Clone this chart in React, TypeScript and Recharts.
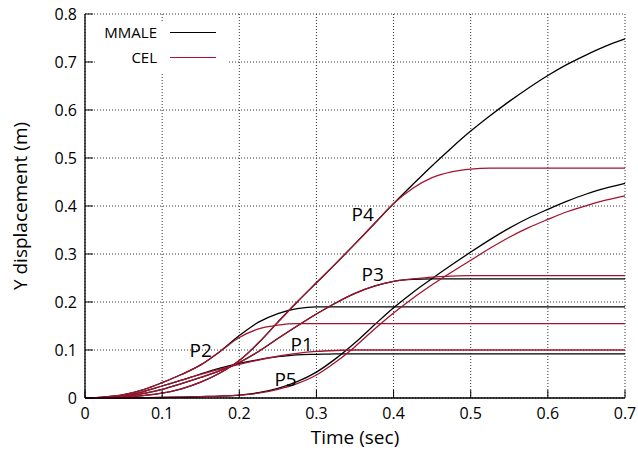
import { CartesianGrid, Line, LineChart, ReferenceDot, XAxis, YAxis } from 'recharts';

const FONT = '"Open Sans", "DejaVu Sans", sans-serif';
const CEL_RED = '#A2142F';

const times = [
  0, 0.025, 0.05, 0.075, 0.1, 0.125, 0.15, 0.175, 0.2, 0.225, 0.25, 0.275, 0.3, 0.325, 0.35,
  0.375, 0.4, 0.425, 0.45, 0.475, 0.5, 0.525, 0.55, 0.575, 0.6, 0.625, 0.65, 0.675, 0.7,
];

const p1Mmale = [
  0, 0.001, 0.005, 0.013, 0.025, 0.037, 0.05, 0.062, 0.072, 0.08, 0.086, 0.09, 0.091, 0.092, 0.092,
  0.092, 0.092, 0.092, 0.092, 0.092, 0.092, 0.092, 0.092, 0.092, 0.092, 0.092, 0.092, 0.092, 0.092,
];
const p1Cel = [
  0, 0.001, 0.005, 0.013, 0.025, 0.037, 0.049, 0.06, 0.07, 0.079, 0.087, 0.093, 0.097, 0.099, 0.1,
  0.1, 0.1, 0.1, 0.1, 0.1, 0.1, 0.1, 0.1, 0.1, 0.1, 0.1, 0.1, 0.1, 0.1,
];
const p2Mmale = [
  0, 0.002, 0.007, 0.017, 0.032, 0.049, 0.069, 0.097, 0.13, 0.158, 0.176, 0.186, 0.19, 0.19, 0.19,
  0.19, 0.19, 0.19, 0.19, 0.19, 0.19, 0.19, 0.19, 0.19, 0.19, 0.19, 0.19, 0.19, 0.19,
];
const p2Cel = [
  0, 0.002, 0.007, 0.017, 0.032, 0.049, 0.069, 0.097, 0.126, 0.144, 0.152, 0.155, 0.155, 0.155,
  0.155, 0.155, 0.155, 0.155, 0.155, 0.155, 0.155, 0.155, 0.155, 0.155, 0.155, 0.155, 0.155, 0.155,
  0.155,
];
const p3Mmale = [
  0, 0.001, 0.003, 0.009, 0.018, 0.03, 0.043, 0.057, 0.074, 0.097, 0.124, 0.15, 0.175, 0.198, 0.218,
  0.233, 0.243, 0.247, 0.248, 0.248, 0.248, 0.248, 0.248, 0.248, 0.248, 0.248, 0.248, 0.248, 0.248,
];
const p3Cel = [
  0, 0.001, 0.003, 0.009, 0.018, 0.03, 0.043, 0.057, 0.074, 0.097, 0.124, 0.15, 0.175, 0.198, 0.218,
  0.233, 0.243, 0.248, 0.252, 0.254, 0.255, 0.255, 0.255, 0.255, 0.255, 0.255, 0.255, 0.255, 0.255,
];
const p4Mmale = [
  0, 0.0005, 0.002, 0.005, 0.01, 0.019, 0.033, 0.052, 0.078, 0.115, 0.158, 0.2, 0.24, 0.28, 0.321,
  0.363, 0.405, 0.445, 0.484, 0.521, 0.556, 0.588, 0.618, 0.646, 0.672, 0.695, 0.715, 0.733, 0.748,
];
const p4Cel = [
  0, 0.0005, 0.002, 0.005, 0.01, 0.019, 0.033, 0.052, 0.078, 0.115, 0.158, 0.2, 0.24, 0.28, 0.321,
  0.363, 0.405, 0.437, 0.459, 0.471, 0.477, 0.479, 0.479, 0.479, 0.479, 0.479, 0.479, 0.479, 0.479,
];
const p5Mmale = [
  0, 0, 0, 0.0005, 0.001, 0.002, 0.003, 0.004, 0.006, 0.011, 0.02, 0.034, 0.054, 0.082, 0.115, 0.152,
  0.188, 0.22, 0.249, 0.277, 0.304, 0.33, 0.354, 0.375, 0.393, 0.41, 0.425, 0.437, 0.447,
];
const p5Cel = [
  0, 0, 0, 0.0005, 0.001, 0.002, 0.003, 0.004, 0.006, 0.01, 0.018, 0.03, 0.048, 0.075, 0.107, 0.143,
  0.177, 0.208, 0.236, 0.262, 0.287, 0.312, 0.335, 0.355, 0.372, 0.388, 0.401, 0.412, 0.421,
];

const xTicks = [0, 0.1, 0.2, 0.3, 0.4, 0.5, 0.6, 0.7];
const yTicks = [0, 0.1, 0.2, 0.3, 0.4, 0.5, 0.6, 0.7, 0.8];

const methods = [
  { name: 'MMALE', color: '#000000' },
  { name: 'CEL', color: CEL_RED },
];

// black (MMALE) first so the red CEL curves sit on top
const series = [
  { key: 'p1Mmale', values: p1Mmale, color: '#000000' },
  { key: 'p2Mmale', values: p2Mmale, color: '#000000' },
  { key: 'p3Mmale', values: p3Mmale, color: '#000000' },
  { key: 'p4Mmale', values: p4Mmale, color: '#000000' },
  { key: 'p5Mmale', values: p5Mmale, color: '#000000' },
  { key: 'p1Cel', values: p1Cel, color: CEL_RED },
  { key: 'p2Cel', values: p2Cel, color: CEL_RED },
  { key: 'p3Cel', values: p3Cel, color: CEL_RED },
  { key: 'p4Cel', values: p4Cel, color: CEL_RED },
  { key: 'p5Cel', values: p5Cel, color: CEL_RED },
];

const pointLabels = [
  { text: 'P1', x: 0.281, y: 0.112 },
  { text: 'P2', x: 0.15, y: 0.1 },
  { text: 'P3', x: 0.373, y: 0.258 },
  { text: 'P4', x: 0.36, y: 0.383 },
  { text: 'P5', x: 0.26, y: 0.04 },
];

const rows = times.map((t, i) => {
  const row: Record<string, number> = { t };
  series.forEach((s) => {
    row[s.key] = s.values[i];
  });
  return row;
});

const tickStyle = { fill: '#000', fontSize: 16, fontFamily: FONT };
const frame = { stroke: '#000', strokeWidth: 1.3 };

function KeyBox() {
  return (
    <div
      style={{
        position: 'absolute',
        left: 96,
        top: 23,
        width: 133,
        height: 49,
        background: '#fff',
        fontFamily: FONT,
        fontSize: 15,
      }}
    >
      {methods.map((m, i) => (
        <div key={m.name}>
          <span
            style={{
              position: 'absolute',
              right: 72,
              top: 9 + i * 25,
              transform: 'translateY(-50%)',
              lineHeight: 1,
              color: '#000',
            }}
          >
            {m.name}
          </span>
          <span
            style={{
              position: 'absolute',
              left: 74,
              top: 9 + i * 25,
              width: 46,
              height: 0,
              borderTop: `1.3px solid ${m.color}`,
            }}
          />
        </div>
      ))}
    </div>
  );
}

export default function App() {
  return (
    <div style={{ position: 'absolute', left: 0, top: 0, width: 638, height: 454, background: '#fff' }}>
      <LineChart width={638} height={454} data={rows} margin={{ top: 14, right: 13, bottom: 0, left: 0 }}>
        <CartesianGrid stroke="#333" strokeDasharray="1 2" />
        <XAxis
          dataKey="t"
          type="number"
          domain={[0, 0.7]}
          ticks={xTicks}
          height={56}
          tickSize={-8}
          tickMargin={18}
          tick={tickStyle}
          axisLine={frame}
          tickLine={{ stroke: '#000' }}
          tickFormatter={(v) => String(v)}
          label={{ value: 'Time (sec)', position: 'insideBottom', offset: 10, fill: '#000', fontSize: 19, fontFamily: FONT }}
        />
        <XAxis
          xAxisId="top"
          orientation="top"
          type="number"
          domain={[0, 0.7]}
          ticks={xTicks}
          height={0}
          tickSize={-8}
          tick={false}
          axisLine={frame}
          tickLine={{ stroke: '#000' }}
        />
        <YAxis
          type="number"
          domain={[0, 0.8]}
          ticks={yTicks}
          width={85}
          tickSize={-8}
          tickMargin={16}
          tick={tickStyle}
          axisLine={frame}
          tickLine={{ stroke: '#000' }}
          tickFormatter={(v) => String(v)}
          label={{
            value: 'Y displacement  (m)',
            angle: -90,
            position: 'insideLeft',
            offset: 20,
            fill: '#000',
            fontSize: 19,
            fontFamily: FONT,
            style: { textAnchor: 'middle' },
          }}
        />
        <YAxis
          yAxisId="right"
          orientation="right"
          type="number"
          domain={[0, 0.8]}
          ticks={yTicks}
          width={0}
          tickSize={-8}
          tick={false}
          axisLine={frame}
          tickLine={{ stroke: '#000' }}
        />
        {series.map((s) => (
          <Line
            key={s.key}
            dataKey={s.key}
            type="monotone"
            stroke={s.color}
            strokeWidth={1.3}
            dot={false}
            activeDot={false}
            isAnimationActive={false}
          />
        ))}
        {pointLabels.map((p) => (
          <ReferenceDot
            key={p.text}
            x={p.x}
            y={p.y}
            r={0}
            fill="none"
            stroke="none"
            label={{ value: p.text, position: 'center', fill: '#000', fontSize: 19, fontFamily: FONT }}
          />
        ))}
      </LineChart>
      <KeyBox />
    </div>
  );
}
